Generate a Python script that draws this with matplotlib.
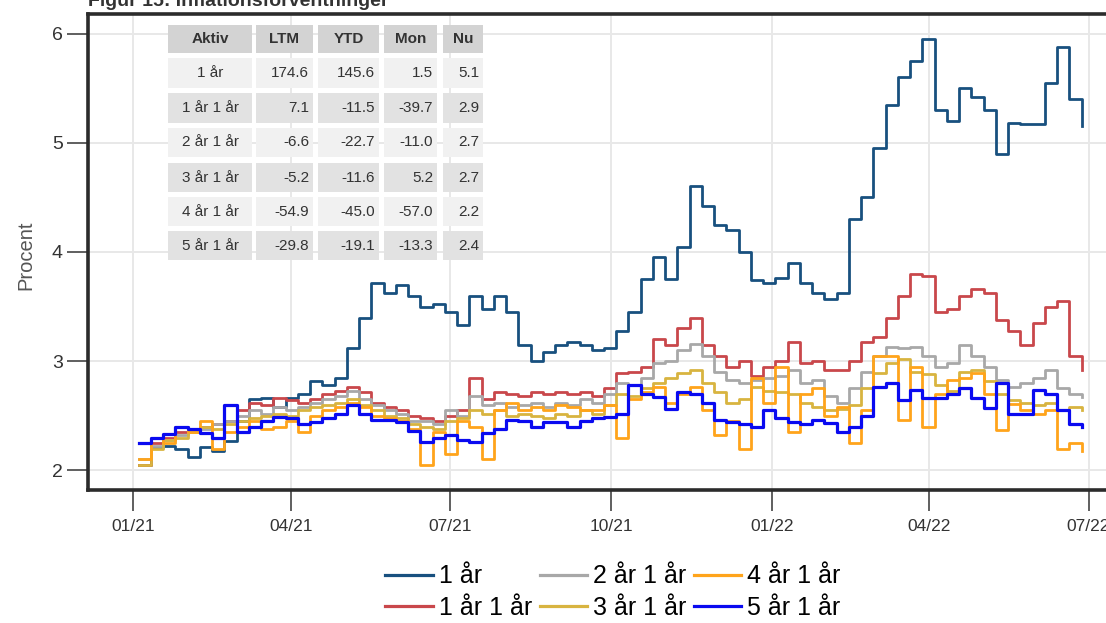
import matplotlib
matplotlib.use("Agg")
import matplotlib.pyplot as plt
import matplotlib.dates as mdates
from matplotlib.patches import Rectangle
import pandas as pd

plt.rcParams["font.family"] = ["Liberation Sans", "DejaVu Sans"]

# weekly observations, first week starting 2021-01-04
dates = pd.date_range("2021-01-04", periods=78, freq="7D")

y1 = [2.05, 2.21, 2.22, 2.20, 2.12, 2.21, 2.18, 2.27, 2.45, 2.65,
      2.66, 2.58, 2.66, 2.70, 2.82, 2.78, 2.85, 3.12, 3.40, 3.72,
      3.62, 3.70, 3.60, 3.50, 3.52, 3.45, 3.33, 3.60, 3.48, 3.60,
      3.45, 3.15, 3.00, 3.08, 3.15, 3.18, 3.15, 3.10, 3.12, 3.28,
      3.45, 3.75, 3.95, 3.75, 4.05, 4.60, 4.42, 4.25, 4.20, 4.00,
      3.74, 3.72, 3.76, 3.90, 3.72, 3.62, 3.57, 3.62, 4.30, 4.50,
      4.95, 5.35, 5.60, 5.75, 5.95, 5.30, 5.20, 5.50, 5.42, 5.30,
      4.90, 5.18, 5.17, 5.17, 5.55, 5.88, 5.40, 5.15]

y1_1 = [2.05, 2.25, 2.30, 2.35, 2.38, 2.40, 2.42, 2.45, 2.55, 2.62,
        2.60, 2.66, 2.64, 2.62, 2.65, 2.70, 2.73, 2.76, 2.72, 2.62,
        2.58, 2.55, 2.50, 2.48, 2.45, 2.50, 2.55, 2.85, 2.65, 2.72,
        2.70, 2.68, 2.72, 2.70, 2.72, 2.70, 2.72, 2.68, 2.75, 2.89,
        2.90, 2.95, 3.20, 3.15, 3.30, 3.40, 3.15, 3.05, 2.95, 3.00,
        2.86, 2.95, 3.00, 3.18, 2.98, 3.00, 2.92, 2.92, 3.00, 3.18,
        3.22, 3.40, 3.60, 3.80, 3.78, 3.45, 3.48, 3.60, 3.66, 3.62,
        3.38, 3.28, 3.15, 3.35, 3.50, 3.55, 3.05, 2.92]

y2_1 = [2.10, 2.22, 2.28, 2.32, 2.35, 2.38, 2.42, 2.45, 2.50, 2.55,
        2.52, 2.58, 2.55, 2.58, 2.62, 2.65, 2.68, 2.73, 2.65, 2.60,
        2.55, 2.52, 2.45, 2.45, 2.42, 2.55, 2.50, 2.68, 2.60, 2.62,
        2.58, 2.60, 2.62, 2.58, 2.62, 2.60, 2.65, 2.62, 2.70, 2.80,
        2.78, 2.85, 2.98, 3.00, 3.10, 3.16, 3.05, 2.90, 2.83, 2.80,
        2.83, 2.85, 2.86, 2.92, 2.80, 2.83, 2.68, 2.62, 2.75, 2.90,
        3.05, 3.13, 3.12, 3.13, 3.05, 2.95, 2.98, 3.15, 3.05, 2.95,
        2.83, 2.76, 2.80, 2.85, 2.92, 2.75, 2.70, 2.67]

y3_1 = [2.05, 2.20, 2.28, 2.30, 2.35, 2.40, 2.38, 2.42, 2.45, 2.48,
        2.50, 2.52, 2.50, 2.55, 2.58, 2.60, 2.62, 2.65, 2.60, 2.55,
        2.50, 2.48, 2.42, 2.40, 2.38, 2.45, 2.48, 2.55, 2.52, 2.55,
        2.50, 2.52, 2.50, 2.48, 2.52, 2.50, 2.55, 2.52, 2.60, 2.70,
        2.68, 2.75, 2.80, 2.85, 2.89, 2.92, 2.80, 2.72, 2.62, 2.65,
        2.76, 2.73, 2.72, 2.70, 2.62, 2.58, 2.55, 2.56, 2.60, 2.75,
        2.89, 2.98, 3.02, 2.90, 2.88, 2.78, 2.73, 2.90, 2.92, 2.82,
        2.70, 2.64, 2.62, 2.60, 2.62, 2.55, 2.58, 2.55]

y4_1 = [2.10, 2.30, 2.25, 2.40, 2.35, 2.45, 2.20, 2.35, 2.40, 2.45,
        2.38, 2.40, 2.45, 2.35, 2.50, 2.55, 2.58, 2.62, 2.58, 2.50,
        2.48, 2.45, 2.38, 2.05, 2.35, 2.15, 2.45, 2.40, 2.10, 2.55,
        2.62, 2.55, 2.58, 2.55, 2.60, 2.58, 2.55, 2.55, 2.60, 2.30,
        2.65, 2.72, 2.76, 2.62, 2.70, 2.76, 2.55, 2.32, 2.45, 2.20,
        2.85, 2.62, 2.95, 2.35, 2.70, 2.75, 2.50, 2.58, 2.25, 2.55,
        3.05, 3.05, 2.46, 2.95, 2.40, 2.70, 2.83, 2.85, 2.89, 2.70,
        2.37, 2.61, 2.55, 2.52, 2.55, 2.20, 2.25, 2.18]

y5_1 = [2.25, 2.30, 2.33, 2.40, 2.38, 2.34, 2.30, 2.60, 2.35, 2.40,
        2.45, 2.49, 2.48, 2.42, 2.44, 2.48, 2.52, 2.60, 2.52, 2.46,
        2.46, 2.44, 2.36, 2.26, 2.30, 2.32, 2.28, 2.26, 2.34, 2.38,
        2.46, 2.45, 2.40, 2.44, 2.44, 2.40, 2.45, 2.48, 2.49, 2.52,
        2.78, 2.70, 2.67, 2.56, 2.72, 2.70, 2.62, 2.46, 2.44, 2.42,
        2.40, 2.55, 2.48, 2.44, 2.42, 2.46, 2.43, 2.35, 2.40, 2.50,
        2.76, 2.80, 2.64, 2.74, 2.66, 2.66, 2.70, 2.75, 2.66, 2.57,
        2.80, 2.52, 2.52, 2.74, 2.70, 2.55, 2.42, 2.40]

labels = ["1 år", "1 år 1 år", "2 år 1 år", "3 år 1 år", "4 år 1 år", "5 år 1 år"]
colors = ["#18507f", "#c9474b", "#a8a8a8", "#d8b440", "#ffa41b", "#0a0af0"]
widths = [2.0, 2.0, 2.0, 2.0, 2.0, 2.3]

tbl_cols = ["Aktiv", "LTM", "YTD", "Mon", "Nu"]
tbl_rows = ["1 år", "1 år 1 år", "2 år 1 år", "3 år 1 år", "4 år 1 år", "5 år 1 år"]
tbl_ltm = ["174.6", "7.1", "-6.6", "-5.2", "-54.9", "-29.8"]
tbl_ytd = ["145.6", "-11.5", "-22.7", "-11.6", "-45.0", "-19.1"]
tbl_mon = ["1.5", "-39.7", "-11.0", "5.2", "-57.0", "-13.3"]
tbl_nu = ["5.1", "2.9", "2.7", "2.7", "2.2", "2.4"]

W, H = 1106, 623
fig = plt.figure(figsize=(W / 100, H / 100), dpi=100)
AX_L, AX_R, AX_T, AX_B = 88, 1120, 14, 490
ax = fig.add_axes([AX_L / W, 1 - AX_B / H, (AX_R - AX_L) / W, (AX_B - AX_T) / H])

series = [y1, y1_1, y2_1, y3_1, y4_1, y5_1]
for vals, lab, col, lw in zip(series, labels, colors, widths):
    ax.step(dates, vals, where="post", color=col, lw=lw, label=lab)

ax.set_xlim(pd.Timestamp("2020-12-06"), pd.Timestamp("2022-07-19"))
ax.set_ylim(1.82, 6.18)
ax.set_yticks([2, 3, 4, 5, 6])
ax.xaxis.set_major_locator(mdates.MonthLocator(bymonth=[1, 4, 7, 10]))
ax.xaxis.set_major_formatter(mdates.DateFormatter("%m/%y"))
ax.grid(True, color="#e8e8e8", lw=1.4)
ax.set_axisbelow(True)

for side in ["left", "top", "bottom"]:
    ax.spines[side].set_color("#2b2b2b")
    ax.spines[side].set_linewidth(2.6)
ax.spines["right"].set_visible(False)
ax.tick_params(axis="both", length=15, width=1.2, color="#444444", labelcolor="#333333", pad=3)
ax.tick_params(axis="x", labelsize=12.5, pad=6)
ax.tick_params(axis="y", labelsize=14)
ax.set_ylabel("Procent", fontsize=14.5, color="#555555")
ax.yaxis.set_label_coords((35 - AX_L) / (AX_R - AX_L), (AX_B - 255) / (AX_B - AX_T))


def px(x, y):
    return (x - AX_L) / (AX_R - AX_L), (AX_B - y) / (AX_B - AX_T)


# summary table inside the plot area
col_x = [(168, 252), (256, 313), (318, 379), (384, 437), (443, 483)]
row_y = [(25, 53), (58, 88), (93, 123), (128, 157), (163, 192), (197, 226), (231, 260)]
cells = [tbl_cols] + [list(r) for r in zip(tbl_rows, tbl_ltm, tbl_ytd, tbl_mon, tbl_nu)]
for i, row in enumerate(cells):
    y0, y1p = row_y[i]
    if i == 0:
        bg = "#d3d3d3"
    elif i % 2 == 1:
        bg = "#f1f1f1"
    else:
        bg = "#e2e2e2"
    for j, txt in enumerate(row):
        x0, x1p = col_x[j]
        ax0, ay0 = px(x0, y1p)
        ax1, ay1 = px(x1p, y0)
        ax.add_patch(Rectangle((ax0, ay0), ax1 - ax0, ay1 - ay0, transform=ax.transAxes,
                               facecolor=bg, edgecolor="none", zorder=5))
        ym = (ay0 + ay1) / 2
        if i == 0 or j == 0:
            ax.text((ax0 + ax1) / 2, ym, txt, transform=ax.transAxes, ha="center", va="center",
                    fontsize=11, color="#333333", fontweight="bold" if i == 0 else "normal", zorder=6)
        else:
            xr, _ = px(x1p - 4, 0)
            ax.text(xr, ym, txt, transform=ax.transAxes, ha="right", va="center",
                    fontsize=11, color="#333333", zorder=6)

fig.text(AX_L / W, 1 - 6 / H, "Figur 15: Inflationsforventninger", ha="left", va="baseline",
         fontsize=14, fontweight="bold", color="#333333")

ax.legend(loc="center", bbox_to_anchor=(613 / W, 1 - 592 / H), bbox_transform=fig.transFigure,
          ncol=3, frameon=False, fontsize=18, handlelength=1.9, handletextpad=0.24,
          columnspacing=0.3, labelspacing=0.3, borderpad=0)
for line in ax.get_legend().get_lines():
    line.set_linewidth(2.3)

fig.savefig("out.png", dpi=100)
